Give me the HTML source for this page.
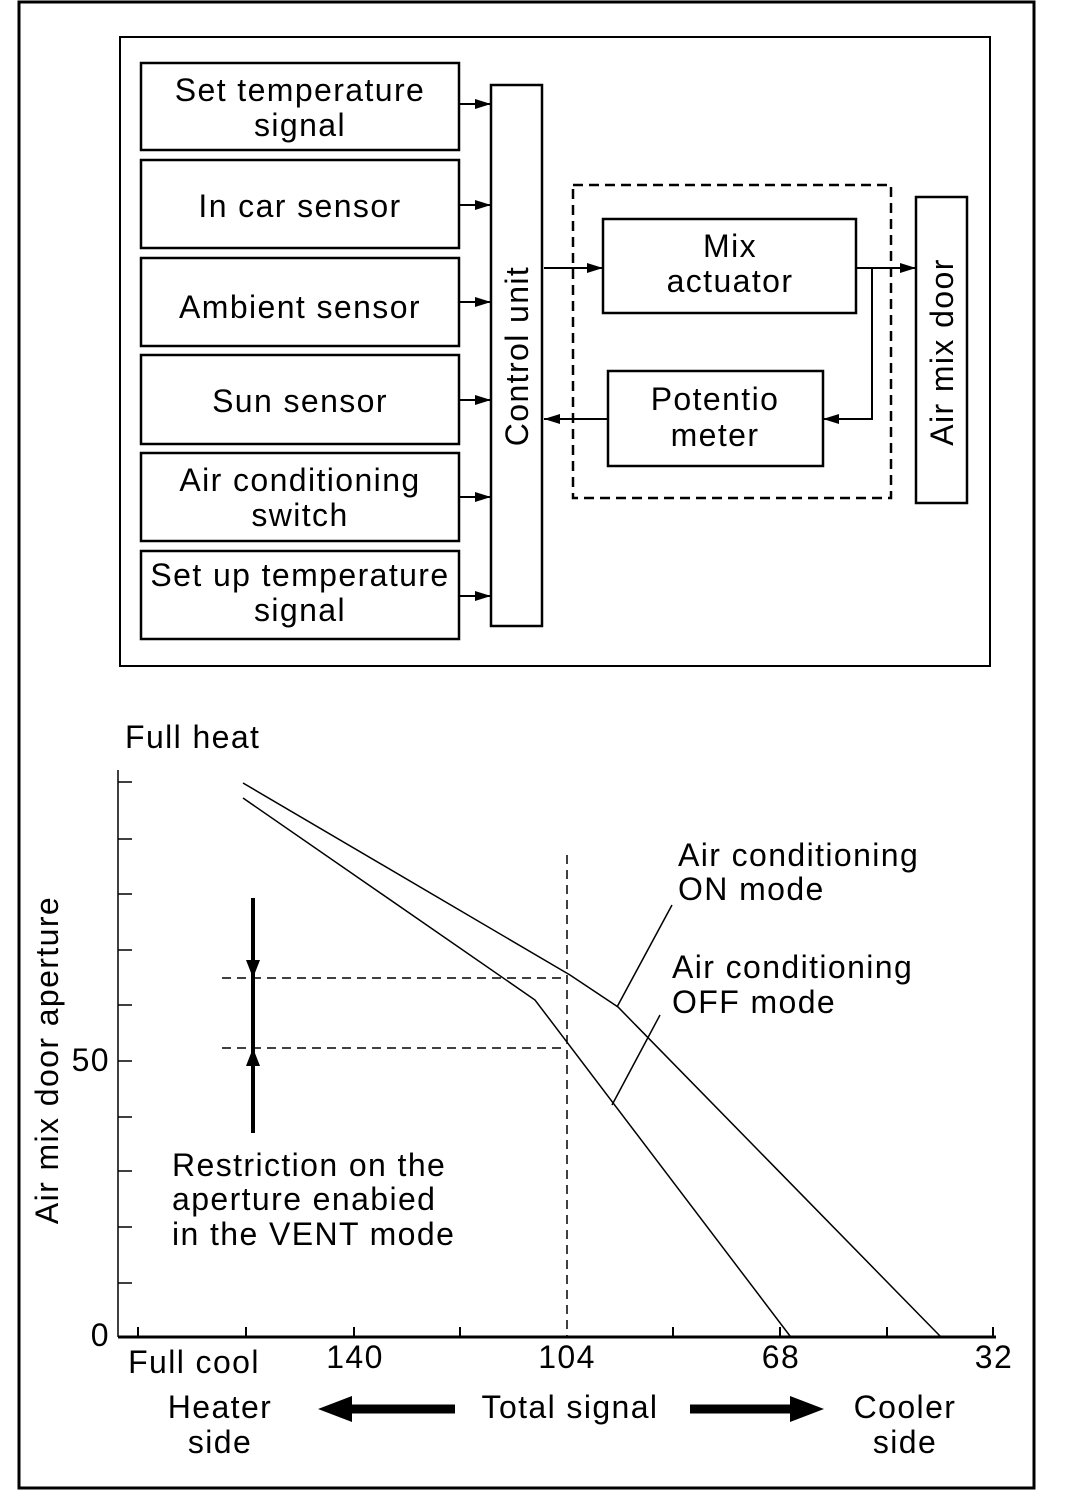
<!DOCTYPE html>
<html><head><meta charset="utf-8"><style>
html,body{margin:0;padding:0;background:#fff}
svg{display:block}
text{font-family:"Liberation Sans",Arial,sans-serif;font-size:32px;letter-spacing:1.4px;fill:#000}
</style></head><body>
<svg width="1072" height="1506" viewBox="0 0 1072 1506" xmlns="http://www.w3.org/2000/svg">
<defs>
<marker id="ah" markerWidth="16" markerHeight="10" refX="16" refY="5" orient="auto" markerUnits="userSpaceOnUse">
<path d="M0,0 L16,5 L0,10 z" fill="#000"/></marker>
</defs>
<rect x="19" y="2" width="1015" height="1486" fill="none" stroke="#000" stroke-width="3"/>
<rect x="120" y="37" width="870" height="629" fill="none" stroke="#000" stroke-width="2"/>
<g fill="none" stroke="#000" stroke-width="2.5">
<rect x="141" y="63" width="318" height="87"/>
<rect x="141" y="160" width="318" height="88"/>
<rect x="141" y="258" width="318" height="88"/>
<rect x="141" y="355" width="318" height="89"/>
<rect x="141" y="453" width="318" height="88"/>
<rect x="141" y="551" width="318" height="88"/>
<rect x="491" y="85" width="51" height="541"/>
<rect x="603" y="219" width="253" height="94"/>
<rect x="608" y="371" width="215" height="95"/>
<rect x="916" y="197" width="51" height="306"/>
<rect x="573" y="185" width="318" height="313" stroke-dasharray="10,6"/>
</g>
<g stroke="#000" stroke-width="2" fill="none">
<path d="M459 104 H491" marker-end="url(#ah)"/>
<path d="M459 205 H491" marker-end="url(#ah)"/>
<path d="M459 302 H491" marker-end="url(#ah)"/>
<path d="M459 400 H491" marker-end="url(#ah)"/>
<path d="M459 497 H491" marker-end="url(#ah)"/>
<path d="M459 596 H491" marker-end="url(#ah)"/>
<path d="M544 268 H603" marker-end="url(#ah)"/>
<path d="M856 268 H916" marker-end="url(#ah)"/>
<path d="M872 268 V419 H823" marker-end="url(#ah)"/>
<path d="M608 419 H544" marker-end="url(#ah)"/>
</g>
<g text-anchor="middle">
<text x="300" y="101">Set temperature</text>
<text x="300" y="136">signal</text>
<text x="300" y="217">In car sensor</text>
<text x="300" y="318">Ambient sensor</text>
<text x="300" y="412">Sun sensor</text>
<text x="300" y="491">Air conditioning</text>
<text x="300" y="526">switch</text>
<text x="300" y="586">Set up temperature</text>
<text x="300" y="621">signal</text>
<text x="730" y="257">Mix</text>
<text x="730" y="292">actuator</text>
<text x="715" y="410">Potentio</text>
<text x="715" y="446">meter</text>
<text transform="translate(528,356) rotate(-90)">Control unit</text>
<text transform="translate(953,352) rotate(-90)">Air mix door</text>
</g>
<text x="125" y="748">Full heat</text>
<text transform="translate(58,1060) rotate(-90)" text-anchor="middle">Air mix door aperture</text>
<text x="110" y="1071" text-anchor="end">50</text>
<text x="110" y="1346" text-anchor="end">0</text>
<g stroke="#000" stroke-width="1.5">
<path d="M118 770 V1337"/>
<path d="M118 782 H132 M118 839 H132 M118 894 H132 M118 950 H132 M118 1005 H132 M118 1061 H132 M118 1117 H132 M118 1171 H132 M118 1227 H132 M118 1283 H132"/>
</g>
<path d="M118 1337 H996" stroke="#000" stroke-width="3"/>
<g stroke="#000" stroke-width="2">
<path d="M138 1327 V1337 M246 1327 V1337 M354 1327 V1337 M460 1327 V1337 M673 1327 V1337 M780 1327 V1337 M887 1327 V1337 M993 1327 V1337"/>
</g>
<g stroke="#000" stroke-width="1.5" fill="none">
<path d="M243 783 L570 975 L618 1007 L940 1336"/>
<path d="M243 798 L535 1000 L790 1336"/>
<path d="M672 905 L617 1007"/>
<path d="M660 1015 L612 1105"/>
<path d="M222 978 H567 M222 1048 H567" stroke-dasharray="9,6"/>
<path d="M567 855 V1336" stroke-dasharray="9,6"/>
</g>
<path d="M253 898 V1133" stroke="#000" stroke-width="4"/>
<path d="M246 960 L260 960 L253 978 z M246 1066 L260 1066 L253 1048 z" fill="#000"/>
<text x="678" y="866">Air conditioning</text>
<text x="678" y="900">ON mode</text>
<text x="672" y="978">Air conditioning</text>
<text x="672" y="1013">OFF mode</text>
<text x="172" y="1176">Restriction on the</text>
<text x="172" y="1210">aperture enabied</text>
<text x="172" y="1245">in the VENT mode</text>
<g text-anchor="middle">
<text x="194" y="1373">Full cool</text>
<text x="355" y="1368">140</text>
<text x="567" y="1368">104</text>
<text x="781" y="1368">68</text>
<text x="994" y="1368">32</text>
<text x="220" y="1418">Heater</text>
<text x="220" y="1453">side</text>
<text x="570" y="1418">Total signal</text>
<text x="905" y="1418">Cooler</text>
<text x="905" y="1453">side</text>
</g>
<path d="M455 1409 H350" stroke="#000" stroke-width="9"/>
<path d="M352 1396 L318 1409 L352 1422 z" fill="#000"/>
<path d="M690 1409 H792" stroke="#000" stroke-width="9"/>
<path d="M790 1396 L824 1409 L790 1422 z" fill="#000"/>
</svg>
</body></html>
